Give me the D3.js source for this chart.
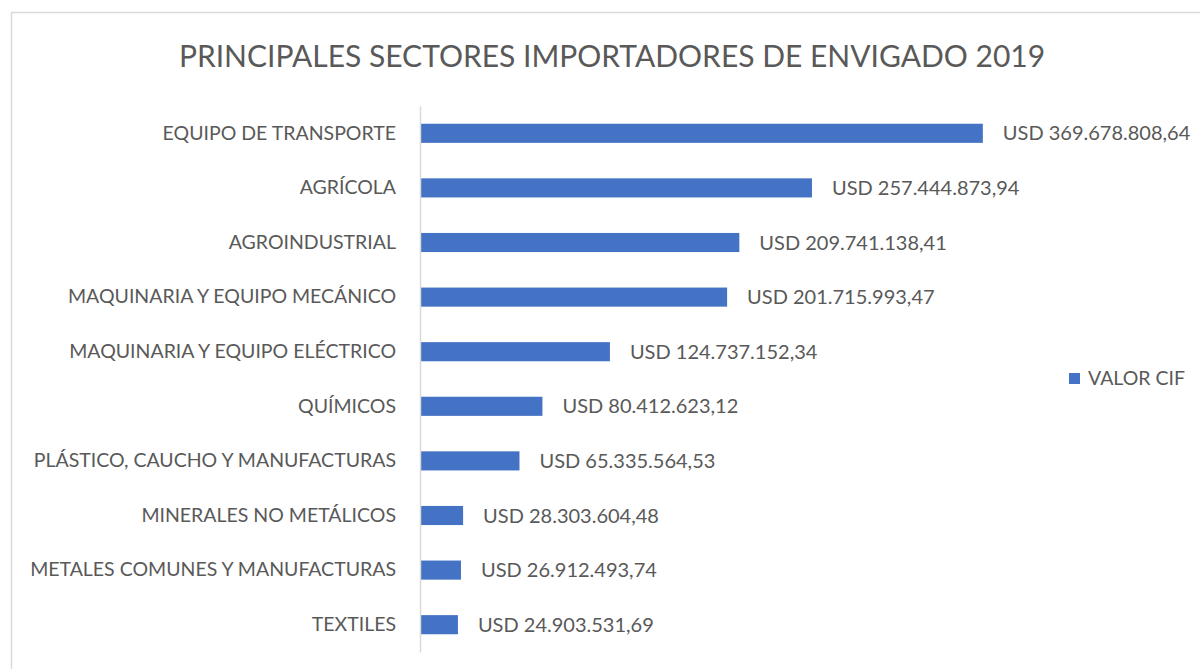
<!DOCTYPE html>
<html>
<head>
<meta charset="UTF-8">
<title>Principales sectores importadores de Envigado 2019</title>
<script src="https://cdn.jsdelivr.net/npm/d3@7"></script>
<style>
body { margin: 0; background: #fff; }
text { font-family: Lato, "Open Sans", sans-serif; fill: #595959; }
</style>
</head>
<body>
<script>
var sectores = [
    "EQUIPO DE TRANSPORTE",
    "AGRÍCOLA",
    "AGROINDUSTRIAL",
    "MAQUINARIA Y EQUIPO MECÁNICO",
    "MAQUINARIA Y EQUIPO ELÉCTRICO",
    "QUÍMICOS",
    "PLÁSTICO, CAUCHO Y MANUFACTURAS",
    "MINERALES NO METÁLICOS",
    "METALES COMUNES Y MANUFACTURAS",
    "TEXTILES"
];
var valores = [
    369678808.64, 257444873.94, 209741138.41, 201715993.47, 124737152.34,
    80412623.12, 65335564.53, 28303604.48, 26912493.74, 24903531.69
];
var etiquetas = [
    "USD 369.678.808,64", "USD 257.444.873,94", "USD 209.741.138,41",
    "USD 201.715.993,47", "USD 124.737.152,34", "USD 80.412.623,12",
    "USD 65.335.564,53", "USD 28.303.604,48", "USD 26.912.493,74",
    "USD 24.903.531,69"
];
var serie = "VALOR CIF";
var titulo = "PRINCIPALES SECTORES IMPORTADORES DE ENVIGADO 2019";

var W = 1200, H = 669;
var svg = d3.select("body").append("svg")
    .attr("width", W)
    .attr("height", H);

// chart border (right and bottom fall outside the picture)
svg.append("rect")
    .attr("x", 11.5).attr("y", 12.5)
    .attr("width", 1200).attr("height", 700)
    .attr("fill", "none")
    .attr("stroke", "#d9d9d9")
    .attr("stroke-width", 1.5);

svg.append("text")
    .attr("x", 612).attr("y", 67)
    .attr("text-anchor", "middle")
    .style("font-size", "30px")
    .text(titulo);

var x = d3.scaleLinear().domain([0, 400000000]).range([420, 1029]);
var y = d3.scaleBand().domain(sectores).range([106, 652]).paddingInner(0.65).paddingOuter(0.325);

svg.selectAll("rect.bar")
    .data(valores)
    .enter()
    .append("rect")
    .attr("class", "bar")
    .attr("x", x(0))
    .attr("y", function(d, i){ return y(sectores[i]); })
    .attr("width", function(d){ return x(d) - x(0); })
    .attr("height", y.bandwidth())
    .attr("fill", "#4472c4");

svg.selectAll("text.val")
    .data(valores)
    .enter()
    .append("text")
    .attr("class", "val")
    .attr("x", function(d){ return x(d) + 20; })
    .attr("y", function(d, i){ return y(sectores[i]) + y.bandwidth() / 2; })
    .attr("dy", "0.35em")
    .style("font-size", "20px")
    .text(function(d, i){ return etiquetas[i]; });

var eje = svg.append("g")
    .attr("transform", "translate(" + x(0) + ",0)")
    .call(d3.axisLeft(y).tickSize(0).tickPadding(24));
eje.select(".domain").attr("stroke", "#d9d9d9").attr("stroke-width", 1.5);
eje.selectAll(".tick text")
    .style("font-size", "19.5px")
    .style("font-family", "Lato, 'Open Sans', sans-serif")
    .attr("fill", "#595959");

// legend
var leg = svg.append("g").attr("transform", "translate(1069,373)");
leg.append("rect").attr("width", 11).attr("height", 11).attr("fill", "#4472c4");
leg.append("text")
    .attr("x", 19).attr("y", 5.5).attr("dy", "0.35em")
    .style("font-size", "19.5px")
    .text(serie);
</script>
</body>
</html>
